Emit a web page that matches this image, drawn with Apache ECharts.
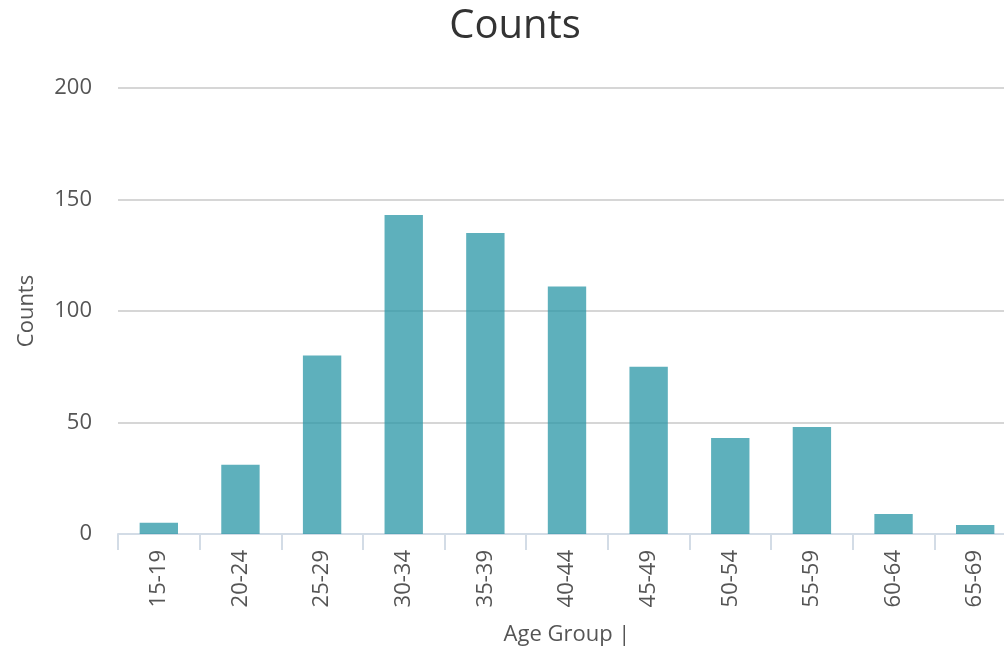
<!DOCTYPE html>
<html>
<head>
<meta charset="utf-8">
<script src="https://cdn.jsdelivr.net/npm/echarts@6/dist/echarts.min.js"></script>
<style>
html,body{margin:0;padding:0;background:#fff;overflow:hidden;width:1004px;height:654px;}
#chart{width:1020px;height:654px;}
</style>
</head>
<body>
<div id="chart"></div>
<script>
const categories = ['15-19','20-24','25-29','30-34','35-39','40-44','45-49','50-54','55-59','60-64','65-69'];
const counts = [5, 31, 80, 143, 135, 111, 75, 43, 48, 9, 4];
const yTicks = { min: 0, max: 200, interval: 50 };
const titleText = 'Counts';
const xAxisName = 'Age Group |';
const yAxisName = 'Counts';

const font = '"Open Sans", "Noto Sans", sans-serif';
const chart = echarts.init(document.getElementById('chart'), null, {renderer: 'canvas'});
chart.setOption({
  animation: false,
  title: {
    text: titleText, left: 510, top: 2, textAlign: 'center',
    textStyle: { fontFamily: font, fontSize: 40, fontWeight: 'normal', color: '#333' }
  },
  grid: { left: 118, top: 88, right: 4, height: 446, containLabel: false },
  xAxis: {
    type: 'category', data: categories,
    name: xAxisName, nameLocation: 'middle', nameGap: 90,
    nameTextStyle: { fontFamily: font, fontSize: 22, color: '#555' },
    axisLine: { lineStyle: { color: '#d3dce6', width: 2 } },
    axisTick: { show: true, length: 16, alignWithLabel: false, lineStyle: { color: '#d3dce6', width: 2 } },
    axisLabel: { rotate: 90, margin: 16, fontFamily: font, fontSize: 22, color: '#555' }
  },
  yAxis: {
    type: 'value', min: yTicks.min, max: yTicks.max, interval: yTicks.interval,
    name: yAxisName, nameLocation: 'middle', nameGap: 80, nameRotate: 90,
    nameTextStyle: { fontFamily: font, fontSize: 22, color: '#555' },
    axisLine: { show: false }, axisTick: { show: false },
    axisLabel: { margin: 26, fontFamily: font, fontSize: 22, color: '#555' },
    splitLine: { lineStyle: { color: '#d6d6d6', width: 2 } }
  },
  series: [{
    type: 'bar', data: counts, barWidth: '47%',
    itemStyle: { color: 'rgba(40,150,165,0.75)' },
    z: 3
  }]
});
</script>
</body>
</html>
